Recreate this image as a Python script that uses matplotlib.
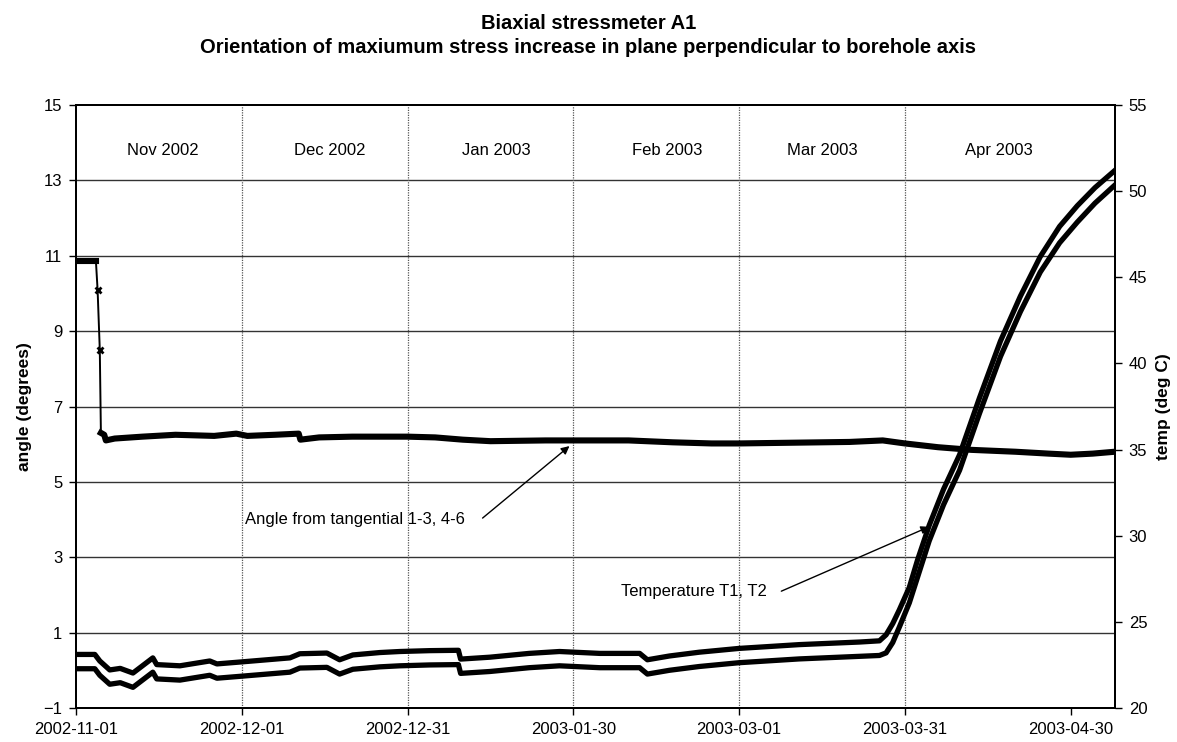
"""
plot.py
---------------------------------
Biaxial stressmeter A1: angle of maximum stress increase and temperature.
"""

import matplotlib
matplotlib.use("Agg")
import matplotlib.pyplot as plt
import matplotlib.dates as mdates
import pandas as pd

plt.rcParams['font.family'] = ['Liberation Sans', 'DejaVu Sans']

START = pd.Timestamp("2002-11-01")
N_DAYS = 188

# angle from tangential 1-3, 4-6 (degrees), x = days after 2002-11-01
angle_day = [0, 3.6, 3.9, 4.3, 4.5, 5.1, 5.4, 7, 12, 18, 25, 29, 31, 36, 40.3,
             40.6, 44, 50, 60, 65, 70, 75, 85, 91, 100, 108, 115, 120, 130,
             140, 146, 150, 156, 162, 170, 176, 180, 184, 188]
angle_val = [10.85, 10.85, 10.1, 8.5, 6.3, 6.25, 6.1, 6.15, 6.2, 6.25, 6.22,
             6.28, 6.22, 6.25, 6.28, 6.12, 6.18, 6.2, 6.2, 6.18, 6.12, 6.08,
             6.1, 6.1, 6.1, 6.05, 6.02, 6.02, 6.04, 6.06, 6.1, 6.02, 5.92,
             5.85, 5.8, 5.75, 5.72, 5.75, 5.8]

# temperature T1, T2 (deg C)
temp_day = [0, 3.4, 4.3, 6.1, 8, 10.3, 13.9, 14.6, 18.8, 24.2, 25.5, 29.7,
            38.7, 40.5, 45.4, 47.7, 50.1, 55, 58.6, 64, 69.2, 69.6, 74.9, 82,
            87.5, 94.8, 102, 103.4, 107.4, 112.8, 120, 130.9, 141.8, 145.4,
            146.6, 147.8, 149, 150.8, 152.3, 154.4, 157, 159.9, 163.5, 167.3,
            170.9, 174.5, 178, 181.2, 184.4, 188]
temp_t1 = [23.11, 23.11, 22.73, 22.21, 22.30, 22.03, 22.91, 22.52, 22.45,
           22.73, 22.56, 22.67, 22.91, 23.15, 23.19, 22.80, 23.08, 23.22,
           23.28, 23.33, 23.35, 22.84, 22.95, 23.17, 23.28, 23.17, 23.17,
           22.80, 23.02, 23.24, 23.46, 23.68, 23.83, 23.9,
           24.25, 24.9, 25.7, 27.0, 28.6, 30.6, 32.7, 34.7, 38.0, 41.3,
           43.9, 46.2, 47.95, 49.15, 50.2, 51.2]
temp_t2 = [22.28, 22.28, 21.9, 21.38, 21.47, 21.2, 22.08, 21.69, 21.62,
           21.9, 21.73, 21.84, 22.08, 22.32, 22.36, 21.97, 22.25, 22.39,
           22.45, 22.5, 22.52, 22.01, 22.12, 22.34, 22.45, 22.34, 22.34,
           21.97, 22.19, 22.41, 22.63, 22.85, 23.0, 23.05,
           23.2, 23.8, 24.7, 26.1, 27.6, 29.7, 31.8, 33.8, 37.1, 40.4,
           43.0, 45.3, 47.0, 48.2, 49.3, 50.35]

month_labels = ["Nov 2002", "Dec 2002", "Jan 2003", "Feb 2003", "Mar 2003", "Apr 2003"]
month_label_day = [15.7, 46, 76, 107, 135, 167]


def to_dates(days):
    return START + pd.to_timedelta(days, unit="D")


def day_num(d):
    return mdates.date2num(START + pd.Timedelta(days=d))


fig = plt.figure(figsize=(11.77, 7.42), dpi=100)
ax = fig.add_axes([0.0646, 0.0458, 0.8826, 0.8127])
ax2 = ax.twinx()

# grid
for y in range(1, 15, 2):
    ax.axhline(y, color="#333333", lw=1.0, zorder=1)
ticks = pd.date_range(START, periods=7, freq="30D")
for t in ticks[1:6]:
    ax.axvline(t, color="#555555", lw=0.9, ls=(0, (1, 1)), zorder=1)

# angle
ax_x = to_dates(angle_day)
ax.plot(ax_x, angle_val, color="black", lw=1.4, zorder=3)
ax.plot(ax_x[4:], angle_val[4:], color="black", lw=4.4, zorder=3)
ax.plot(ax_x[:2], angle_val[:2], color="black", lw=4.4, zorder=3)
ax.plot(ax_x[2:4], angle_val[2:4], ls="none", marker="x", color="black",
        ms=5, mew=2, zorder=3)

# temperature
t_x = to_dates(temp_day)
ax2.plot(t_x, temp_t1, color="black", lw=3.8, zorder=3)
ax2.plot(t_x, temp_t2, color="black", lw=3.8, zorder=3)

# axes
ax.set_xlim(START, START + pd.Timedelta(days=N_DAYS))
ax.set_ylim(-1, 15)
ax2.set_ylim(20, 55)
ax.set_yticks(range(-1, 16, 2))
ax2.set_yticks(range(20, 56, 5))
ax.set_xticks(ticks)
ax.xaxis.set_major_formatter(mdates.DateFormatter("%Y-%m-%d"))
for a in (ax, ax2):
    a.tick_params(labelsize=12, length=5, width=1, direction="out", pad=5)
    for s in a.spines.values():
        s.set_linewidth(1.4)
ax.set_ylabel("angle (degrees)", fontsize=12.5, fontweight="bold", labelpad=8)
ax2.set_ylabel("temp (deg C)", fontsize=12.5, fontweight="bold", labelpad=6)

for lab, d in zip(month_labels, month_label_day):
    ax.text(day_num(d), 13.8, lab, ha="center", va="center", fontsize=12)

ax.annotate("Angle from tangential 1-3, 4-6", xy=(day_num(89.3), 5.95),
            xytext=(day_num(30.6), 4.0), fontsize=12, va="center",
            arrowprops=dict(arrowstyle="-|>", color="black", lw=1,
                            mutation_scale=12, shrinkA=0, shrinkB=0,
                            relpos=(1.08, 0.6)))
ax.annotate("Temperature T1, T2", xy=(day_num(154.4), 3.81),
            xytext=(day_num(98.6), 2.1), fontsize=12, va="center",
            arrowprops=dict(arrowstyle="-|>", color="black", lw=1,
                            mutation_scale=12, shrinkA=0, shrinkB=0,
                            relpos=(1.1, 0.5)))

fig.text(0.5, 0.968, "Biaxial stressmeter A1", ha="center", va="center",
         fontsize=14.5, fontweight="bold")
fig.text(0.5, 0.936, "Orientation of maxiumum stress increase in plane perpendicular to borehole axis",
         ha="center", va="center", fontsize=14.5, fontweight="bold")

fig.savefig("out.png", dpi=100)
